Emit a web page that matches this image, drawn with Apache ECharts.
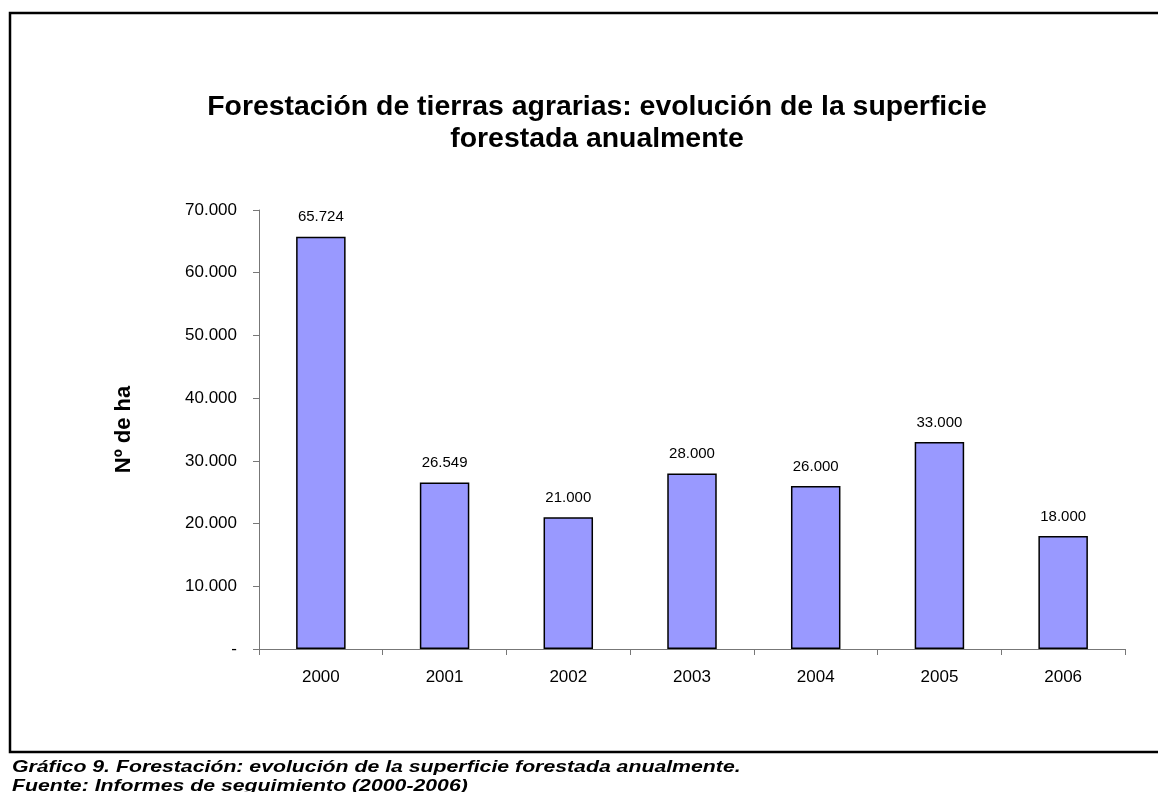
<!DOCTYPE html>
<html><head><meta charset="utf-8">
<script src="https://cdn.jsdelivr.net/npm/echarts@6/dist/echarts.min.js"></script>
<style>html,body{margin:0;padding:0;background:#fff}#c{width:1158px;height:792px}</style>
</head><body><div id="c"></div>
<script>
const categories = ['2000','2001','2002','2003','2004','2005','2006'];
const values = [65724, 26549, 21000, 28000, 26000, 33000, 18000];
const yTicks = [0, 10000, 20000, 30000, 40000, 50000, 60000, 70000];
const titleLines = ['Forestación de tierras agrarias: evolución de la superficie', 'forestada anualmente'];
const captionLines = ['Gráfico 9. Forestación: evolución de la superficie forestada anualmente.', 'Fuente: Informes de seguimiento (2000-2006)'];
const yAxisName = 'Nº de ha';

function fmt(v){ if(v===0) return '-'; return String(v).replace(/\B(?=(\d{3})+(?!\d))/g,'.'); }

const chart = echarts.init(document.getElementById('c'));
chart.setOption({
  animation:false,
  backgroundColor:'#fff',
  title:{text:titleLines.join('\n'), left:592, top:86, textAlign:'center',
    textStyle:{fontFamily:'Liberation Sans', fontWeight:'bold', fontSize:28.4, lineHeight:32, color:'#000'}},
  grid:{left:259, top:210, right:33, bottom:143},
  xAxis:{type:'category', data:categories,
    axisLine:{lineStyle:{color:'#777', width:1}},
    axisTick:{show:true, length:6, lineStyle:{color:'#777'}},
    axisLabel:{fontFamily:'Liberation Sans', fontSize:17, color:'#000', margin:20}},
  yAxis:{type:'value', min:yTicks[0], max:yTicks[yTicks.length-1], interval:yTicks[1]-yTicks[0],
    name:yAxisName, nameLocation:'middle', nameGap:124, nameRotate:90,
    nameTextStyle:{fontFamily:'Liberation Sans', fontWeight:'bold', fontSize:22, color:'#000'},
    axisLine:{show:true, lineStyle:{color:'#777', width:1}},
    axisTick:{show:true, length:6, lineStyle:{color:'#777'}},
    splitLine:{show:false},
    axisLabel:{fontFamily:'Liberation Sans', fontSize:17, color:'#000', margin:22, formatter:fmt}},
  series:[{type:'bar', data:values, barWidth:'40%',
    itemStyle:{color:'#9999FF', borderColor:'#000', borderWidth:1.5},
    label:{show:true, position:'top', distance:12, fontFamily:'Liberation Sans', fontSize:15, color:'#000', formatter:p=>fmt(p.value)}}],
  graphic:[
    {type:'rect', shape:{x:10, y:13, width:1160, height:739}, style:{fill:'none', stroke:'#000', lineWidth:2.5}, silent:true},
    {type:'text', x:12, y:758, scaleX:1.25, style:{text:captionLines.join('\n'), fontFamily:'Liberation Sans', fontWeight:'bold', fontStyle:'italic', fontSize:17, lineHeight:19, fill:'#000'}}
  ]
});
</script></body></html>
